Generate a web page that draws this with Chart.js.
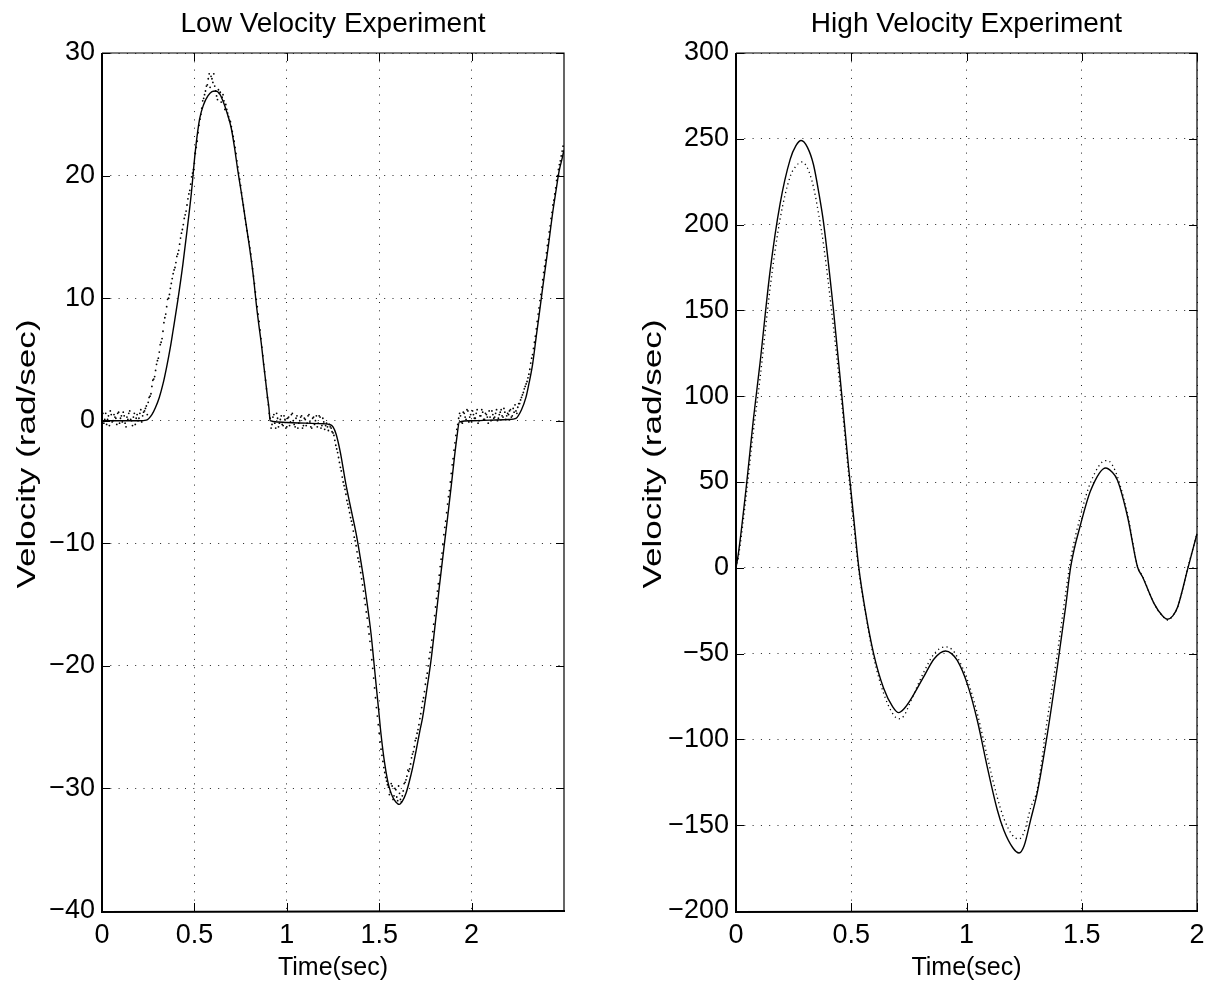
<!DOCTYPE html>
<html>
<head>
<meta charset="utf-8">
<script src="https://cdn.jsdelivr.net/npm/chart.js@4.4.0/dist/chart.umd.min.js"></script>
<style>
  html, body { margin: 0; padding: 0; background: #fff; }
  .panel { position: absolute; top: 0; width: 607px; height: 991px; }
</style>
</head>
<body>
<div class="panel" style="left:0"><canvas id="lowChart" width="607" height="991"></canvas></div>
<div class="panel" style="left:607px"><canvas id="highChart" width="607" height="991"></canvas></div>
<script>
// ---- low velocity experiment ----
const lowXTicks = [0, 0.5, 1, 1.5, 2];
const lowYTicks = [-40, -30, -20, -10, 0, 10, 20, 30];

// model (solid line)
const lowModelTime = [0, 0.1, 0.2, 0.24, 0.27, 0.29, 0.31, 0.33, 0.35, 0.37, 0.384, 0.41, 0.438, 0.46, 0.483,
  0.505, 0.528, 0.55, 0.573, 0.595, 0.615, 0.635, 0.654, 0.675, 0.699, 0.717, 0.735, 0.753, 0.771, 0.79,
  0.808, 0.822, 0.835, 0.848, 0.862, 0.874, 0.885, 0.895, 0.903, 0.91, 0.95, 1.0, 1.1, 1.2, 1.23, 1.25,
  1.267, 1.29, 1.32, 1.35, 1.375, 1.40, 1.42, 1.44, 1.456, 1.47, 1.483, 1.497, 1.51, 1.528, 1.546, 1.56,
  1.573, 1.59, 1.609, 1.627, 1.645, 1.662, 1.681, 1.70, 1.72, 1.735, 1.76, 1.78, 1.80, 1.825, 1.85, 1.87,
  1.89, 1.907, 1.92, 1.934, 2.0, 2.1, 2.2, 2.24, 2.27, 2.294, 2.31, 2.33, 2.35, 2.366, 2.385, 2.402, 2.42,
  2.438, 2.455, 2.474, 2.49, 2.5];
const lowModelVel = [0, 0, 0, 0.05, 0.5, 1.1, 1.9, 3.0, 4.4, 6.0, 7.3, 9.8, 12.8, 15.5, 18.5,
  22.0, 24.6, 25.8, 26.5, 26.85, 26.9, 26.7, 26.1, 25.2, 23.9, 22.3, 20.4, 18.7, 16.9, 15.0,
  13.1, 11.4, 9.5, 7.9, 6.3, 4.7, 3.3, 2.0, 1.1, 0.0, -0.1, -0.15, -0.2, -0.25, -0.3, -0.5,
  -1.1, -2.6, -5.2, -7.4, -9.2, -11.4, -13.3, -15.5, -17.4, -19.5, -21.5, -23.6, -25.6, -27.8, -29.4, -30.2,
  -30.7, -31.1, -31.3, -31.0, -30.4, -29.5, -28.3, -26.9, -25.3, -24.2, -21.7, -19.6, -17.0, -13.6, -10.4, -7.9,
  -5.3, -3.0, -1.4, -0.1, 0.0, 0.05, 0.1, 0.2, 0.9, 1.9, 3.0, 4.6, 6.9, 8.7, 10.9, 12.8, 14.8,
  16.9, 18.6, 20.4, 21.4, 22.1];

// measured samples (dots), one every 0.01 s from t = 0
const lowMeasStart = 0;
const lowMeasStep = 0.01;
const lowMeasVel = [
  0.3, -0.2, 0.6, 0.1, -0.4, 0.5, 0.0, 0.3, -0.3, 0.7,
  0.2, -0.1, 0.4, -0.5, 0.1, 0.8, 0.0, 0.3, -0.3, 0.5,
  0.2, 0.9, 0.4, 0.8, 1.2, 1.5, 2.0, 2.8, 3.4, 4.1,
  4.9, 5.6, 6.4, 7.3, 8.4, 9.3, 10.0, 10.8, 11.6, 12.3,
  12.9, 13.6, 14.4, 15.3, 16.0, 16.8, 17.6, 18.5, 19.3, 20.2,
  21.0, 22.3, 23.5, 24.6, 25.5, 26.3, 26.9, 27.4, 28.3, 28.1,
  27.6, 27.3, 26.5, 27.0, 26.8, 26.4, 26.1, 25.8, 25.1, 24.5,
  24.0, 23.2, 22.3, 21.2, 20.2, 19.2, 18.1, 17.1, 16.0, 15.0,
  14.1, 13.0, 11.8, 10.5, 9.3, 8.1, 6.7, 5.3, 4.0, 2.6,
  1.3, 0.2, -0.3, 0.5, -0.6, 0.2, -0.2, 0.4, -0.4, 0.1,
  -0.5, 0.3, -0.1, 0.6, -0.3, 0.2, -0.6, 0.0, 0.4, -0.4,
  0.1, -0.2, 0.5, -0.5, 0.2, -0.3, 0.4, -0.2, 0.3, -0.4,
  -0.1, -0.4, -0.5, -0.3, -0.6, -1.0, -1.6, -2.3, -3.0, -3.8,
  -4.6, -5.3, -6.0, -6.8, -7.5, -8.2, -9.0, -9.8, -10.7, -11.5,
  -12.4, -13.4, -14.5, -15.6, -16.8, -18.0, -19.5, -21.0, -22.6, -24.1,
  -25.5, -26.8, -27.8, -28.7, -29.4, -29.9, -30.3, -29.8, -30.6, -30.1,
  -31.0, -30.4, -31.1, -30.2, -29.5, -29.0, -28.6, -28.0, -27.2, -26.6,
  -25.9, -25.2, -24.3, -23.4, -22.6, -21.5, -20.6, -19.4, -18.5, -17.2,
  -15.9, -14.5, -13.3, -11.9, -10.8, -9.3, -8.2, -6.8, -5.7, -4.3,
  -3.1, -1.8, -0.7, 0.2, 0.4, -0.2, 0.6, 0.1, 0.8, 0.3,
  -0.1, 0.5, 0.2, 0.9, 0.0, 0.4, 0.7, 0.1, 0.5, -0.2,
  0.3, 0.8, 0.2, 0.6, 0.0, 0.5, 0.9, 0.3, 0.7, 0.4,
  0.5, 0.9, 0.4, 0.7, 0.8, 1.1, 1.4, 1.9, 2.3, 2.8,
  3.2, 3.8, 4.7, 5.4, 6.4, 7.5, 8.7, 9.8, 10.9, 12.1,
  13.1, 14.3, 15.4, 16.5, 17.6, 18.5, 19.6, 20.5, 21.2, 22.0
];
// second sample channel, offset by half a step (t = 0.005, 0.015, ...)
const lowMeasStartB = 0.005;
const lowMeasVelB = [
  0.6, 0.1, -0.3, 0.4, 0.8, -0.1, 0.5, 0.2, 0.6, -0.2,
  0.4, 0.7, -0.2, 0.3, 0.6, 0.1, -0.4, 0.6, 0.2, 0.0,
  0.6, -0.1, 0.7, 1.0, 0.5, 1.9, 2.2, 3.3, 3.6, 4.6,
  5.1, 6.2, 6.7, 8.0, 8.7, 9.9, 10.3, 11.2, 12.0, 12.5,
  13.4, 13.9, 14.9, 15.6, 16.5, 17.1, 18.1, 18.8, 19.9, 20.5,
  21.8, 22.8, 24.1, 25.0, 26.1, 26.6, 27.3, 27.9, 27.2, 27.9,
  28.3, 26.9, 26.2, 26.7, 26.0, 26.6, 25.4, 25.4, 24.8, 24.4,
  23.6, 22.8, 21.8, 20.7, 19.7, 18.6, 17.6, 16.5, 15.5, 14.6,
  13.6, 12.4, 11.2, 9.9, 8.7, 7.4, 6.0, 4.6, 3.3, 1.9,
  0.6, -0.6, 0.3, -0.2, 0.6, -0.5, 0.1, -0.3, 0.4, -0.6,
  0.2, -0.4, 0.5, 0.0, -0.5, 0.4, -0.2, 0.3, -0.6, 0.2,
  -0.4, 0.4, -0.1, -0.6, 0.3, 0.0, -0.5, 0.4, -0.6, 0.2,
  -0.7, -0.2, -0.8, -0.5, -0.9, -1.2, -2.0, -2.6, -3.4, -4.1,
  -5.0, -5.6, -6.5, -7.1, -7.9, -8.5, -9.5, -10.2, -11.2, -11.9,
  -12.9, -13.9, -15.0, -16.1, -17.4, -18.7, -20.2, -21.8, -23.4, -24.8,
  -26.2, -27.3, -28.3, -29.1, -29.7, -30.5, -29.6, -30.9, -30.0, -30.7,
  -29.8, -30.9, -30.6, -29.6, -29.3, -28.5, -28.4, -27.5, -27.0, -26.1,
  -25.5, -24.8, -23.9, -22.9, -22.1, -21.0, -20.0, -18.9, -17.9, -16.6,
  -15.2, -13.9, -12.6, -11.3, -10.1, -8.7, -7.5, -6.2, -5.0, -3.6,
  -2.4, -1.2, -0.3, 0.6, -0.1, 0.7, 0.3, 0.9, -0.1, 0.5,
  0.8, 0.2, 0.6, -0.2, 0.4, 0.9, 0.1, 0.6, 0.3, 0.8,
  0.0, 0.5, 0.3, 0.9, 0.2, 0.7, 0.4, 1.0, 0.1, 0.6,
  0.8, 0.3, 1.0, 1.3, 0.6, 1.4, 1.7, 2.1, 2.6, 3.0,
  3.5, 4.2, 5.1, 5.9, 6.9, 8.1, 9.2, 10.3, 11.5, 12.6,
  13.7, 14.8, 15.9, 17.0, 18.0, 19.0, 20.0, 20.9, 21.6, 22.4
];

// ---- high velocity experiment ----
const highXTicks = [0, 0.5, 1, 1.5, 2];
const highYTicks = [-200, -150, -100, -50, 0, 50, 100, 150, 200, 250, 300];

const highModelTime = [0, 0.01, 0.046, 0.075, 0.104, 0.148, 0.191, 0.235, 0.26, 0.283, 0.31, 0.336, 0.36, 0.38,
  0.423, 0.46, 0.488, 0.51, 0.532, 0.561, 0.597, 0.64, 0.68, 0.706, 0.73, 0.757, 0.814, 0.86, 0.909, 0.935,
  0.96, 1.003, 1.047, 1.09, 1.134, 1.162, 1.2, 1.228, 1.25, 1.278, 1.307, 1.351, 1.394, 1.43, 1.452, 1.496,
  1.539, 1.604, 1.63, 1.655, 1.699, 1.742, 1.764, 1.814, 1.85, 1.872, 1.895, 1.916, 1.96, 2.0];
const highModelVel = [0, 8, 49, 86, 119, 173, 212, 238, 246, 249, 245, 235, 218, 201,
  150, 99, 59, 30, 1, -25, -50, -70, -81, -84.4, -82, -77, -63.6, -53, -48.5, -50,
  -54, -67.5, -89, -116, -141.3, -153, -163, -166.2, -162, -147, -131, -96.6, -57.8, -22.8, 0.5, 25.8,
  45.2, 58.2, 56, 51, 29.6, 0.5, -5.4, -20.9, -28, -30, -28, -22.8, -0.5, 19.9];

const highMeasTime = [0, 0.01, 0.046, 0.075, 0.104, 0.148, 0.191, 0.235, 0.26, 0.285, 0.31, 0.336, 0.36, 0.38,
  0.423, 0.46, 0.488, 0.51, 0.532, 0.561, 0.597, 0.64, 0.68, 0.706, 0.73, 0.757, 0.814, 0.86, 0.909, 0.94,
  0.96, 1.003, 1.047, 1.09, 1.134, 1.162, 1.2, 1.228, 1.25, 1.278, 1.307, 1.351, 1.394, 1.43, 1.452, 1.496,
  1.539, 1.604, 1.62, 1.655, 1.699, 1.742, 1.764, 1.814, 1.85, 1.872, 1.9, 1.916, 1.96, 2.0];
const highMeasVel = [0, 6, 44, 79, 110, 163, 203, 228, 234, 236.5, 233, 222, 205, 188,
  140, 94, 55, 26, -1, -26, -52, -73, -85, -88, -86, -78, -61, -50, -46, -48,
  -52, -65, -85, -110, -134, -146, -156, -158, -154, -140, -129, -88, -50, -15, 5, 31,
  50, 62.5, 62, 53, 31, 1, -5, -21, -28, -30.5, -27, -23, 0, 20];

// ---- helpers ----
const FONT = 'Liberation Sans, Arial, Helvetica, sans-serif';

function toPoints(times, values) {
  return values.map((v, i) => ({ x: times[i], y: v }));
}

function sampled(start, step, values) {
  return values.map((v, i) => ({ x: start + i * step, y: v }));
}

function fmtTick(v) {
  const s = String(Math.abs(v));
  return v < 0 ? '\u2212' + s : s;
}

// frame with inward ticks on all four sides, the panel title and the y label
const framePlugin = {
  id: 'frame',
  afterDraw(chart, args, opts) {
    const { ctx, chartArea: a, scales } = chart;
    ctx.save();
    ctx.strokeStyle = '#000';
    ctx.lineWidth = 1;
    const tl = 8;
    scales.x.ticks.forEach(t => {
      const px = Math.round(scales.x.getPixelForValue(t.value)) + 0.5;
      ctx.beginPath();
      ctx.moveTo(px, a.bottom); ctx.lineTo(px, a.bottom - tl);
      ctx.moveTo(px, a.top); ctx.lineTo(px, a.top + tl);
      ctx.stroke();
    });
    scales.y.ticks.forEach(t => {
      const py = Math.round(scales.y.getPixelForValue(t.value)) + 0.5;
      ctx.beginPath();
      ctx.moveTo(a.left, py); ctx.lineTo(a.left + tl, py);
      ctx.moveTo(a.right, py); ctx.lineTo(a.right - tl, py);
      ctx.stroke();
    });
    ctx.lineWidth = 1.2;
    ctx.beginPath();
    ctx.moveTo(a.left, a.top); ctx.lineTo(a.right, a.top); ctx.lineTo(a.right, a.bottom);
    ctx.stroke();
    ctx.lineWidth = 2;
    ctx.beginPath();
    ctx.moveTo(a.left, a.top); ctx.lineTo(a.left, a.bottom + 1); ctx.lineTo(a.right + 1, a.bottom);
    ctx.stroke();

    ctx.fillStyle = '#000';
    ctx.textAlign = 'center';
    ctx.textBaseline = 'alphabetic';
    ctx.font = '28px ' + FONT;
    ctx.fillText(opts.text, (a.left + a.right) / 2, 32);

    // y label, stretched along its length like the original figure
    ctx.translate(opts.yLabelX, 454);
    ctx.rotate(-Math.PI / 2);
    ctx.scale(1.35, 1);
    ctx.font = '26px ' + FONT;
    ctx.fillText('Velocity (rad/sec)', 0, 0);
    ctx.restore();
  }
};

function makeOptions(title, xTicks, yTicks, xMax, yMin, yMax, yWidth, padRight, yLabelX) {
  return {
    responsive: false,
    animation: false,
    devicePixelRatio: 1,
    layout: { padding: { top: 53, right: padRight, left: 0, bottom: 0 } },
    plugins: {
      legend: { display: false },
      tooltip: { enabled: false },
      frame: { text: title, yLabelX: yLabelX }
    },
    scales: {
      x: {
        type: 'linear',
        min: 0,
        max: xMax,
        afterBuildTicks: s => { s.ticks = xTicks.map(v => ({ value: v })); },
        afterFit: s => { s.height = 80; },
        ticks: {
          callback: v => fmtTick(v),
          color: '#000',
          font: { family: FONT, size: 27 },
          padding: 8,
          maxRotation: 0,
          autoSkip: false
        },
        grid: { color: '#222', lineWidth: 1, drawTicks: false },
        border: { display: false, dash: [1, 7.3] },
        title: {
          display: true,
          text: 'Time(sec)',
          color: '#000',
          font: { family: FONT, size: 25 },
          padding: { top: 0, bottom: 8 }
        }
      },
      y: {
        type: 'linear',
        min: yMin,
        max: yMax,
        afterBuildTicks: s => { s.ticks = yTicks.map(v => ({ value: v })); },
        afterFit: s => { s.width = yWidth; },
        ticks: {
          callback: v => fmtTick(v),
          color: '#000',
          font: { family: FONT, size: 27 },
          padding: 7,
          autoSkip: false
        },
        grid: { color: '#222', lineWidth: 1, drawTicks: false },
        border: { display: false, dash: [1, 7.3] }
      }
    }
  };
}

new Chart(document.getElementById('lowChart'), {
  type: 'scatter',
  data: {
    datasets: [
      {
        label: 'Model',
        data: toPoints(lowModelTime, lowModelVel),
        showLine: true,
        borderColor: '#000',
        borderWidth: 1.4,
        pointRadius: 0,
        cubicInterpolationMode: 'monotone'
      },
      {
        label: 'Measured',
        data: sampled(lowMeasStart, lowMeasStep, lowMeasVel),
        showLine: false,
        pointRadius: 0.9,
        pointBorderWidth: 0,
        pointBackgroundColor: '#000'
      },
      {
        label: 'Measured B',
        data: sampled(lowMeasStartB, lowMeasStep, lowMeasVelB),
        showLine: false,
        pointRadius: 0.9,
        pointBorderWidth: 0,
        pointBackgroundColor: '#000'
      }
    ]
  },
  options: makeOptions('Low Velocity Experiment', lowXTicks, lowYTicks, 2.5, -40, 30, 102, 43, 35),
  plugins: [framePlugin]
});

new Chart(document.getElementById('highChart'), {
  type: 'scatter',
  data: {
    datasets: [
      {
        label: 'Model',
        data: toPoints(highModelTime, highModelVel),
        showLine: true,
        borderColor: '#000',
        borderWidth: 1.4,
        pointRadius: 0,
        cubicInterpolationMode: 'monotone'
      },
      {
        label: 'Measured',
        data: toPoints(highMeasTime, highMeasVel),
        showLine: true,
        borderColor: '#000',
        borderWidth: 1.3,
        borderDash: [1.2, 3.3],
        pointRadius: 0,
        cubicInterpolationMode: 'monotone'
      }
    ]
  },
  options: makeOptions('High Velocity Experiment', highXTicks, highYTicks, 2, -200, 300, 129, 17, 54),
  plugins: [framePlugin]
});
</script>
</body>
</html>
